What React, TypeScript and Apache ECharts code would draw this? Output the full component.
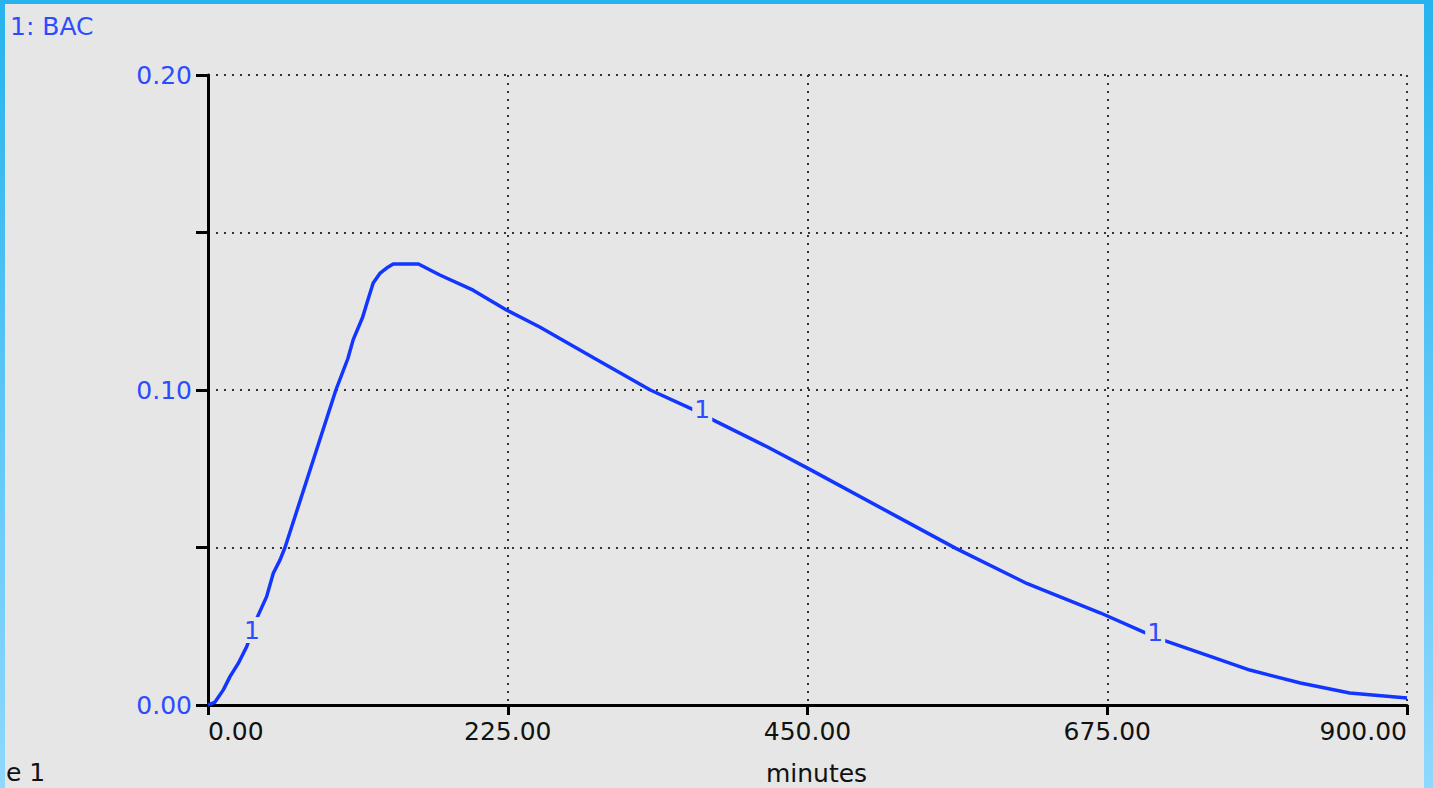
import React, { useEffect, useRef } from "react";
import * as echarts from "echarts";

// Time (minutes) and blood-alcohol concentration
const timeMinutes = [0, 5, 11.5, 16.5, 22.7, 29, 36.6, 44, 49, 54, 57.8, 76.6, 96, 105, 109, 116, 120, 124, 129, 135, 139, 158, 174, 199, 224, 249, 290, 332, 363, 379, 420, 450, 519, 561, 615, 670, 702, 717, 754, 782, 820, 857, 900];
const bacValues = [0, 0.0008, 0.0048, 0.009, 0.0132, 0.0185, 0.0275, 0.0344, 0.0418, 0.046, 0.05, 0.0746, 0.1, 0.11, 0.116, 0.123, 0.1286, 0.134, 0.137, 0.139, 0.14, 0.14, 0.1365, 0.1317, 0.1254, 0.12, 0.1101, 0.1, 0.094, 0.0905, 0.0819, 0.0752, 0.0594, 0.0498, 0.0385, 0.0292, 0.0232, 0.0206, 0.0152, 0.0111, 0.007, 0.0038, 0.0022];

// Curve labels "1" placed on the line
const labelTimes = [33, 371, 711];
const labelValues = [0.0238, 0.0937, 0.0229];

const xTicks = [0, 225, 450, 675, 900];
const yLabeled = [0, 0.1, 0.2];

const FONT = "DejaVu Sans";
const BLUE_LINE = "#1236ff";
const BLUE_TEXT = "#2d4cff";
const BG = "#e6e6e6";

export default function App() {
  const ref = useRef<HTMLDivElement>(null);

  useEffect(() => {
    if (!ref.current) return;
    const chart = echarts.init(ref.current, null, { renderer: "svg" });
    const lineData = timeMinutes.map((t, i) => [t, bacValues[i]]);
    const labelData = labelTimes.map((t, i) => [t, labelValues[i]]);
    const frameGradient = new echarts.graphic.LinearGradient(0, 0, 0, 1, [
      { offset: 0, color: "#26b3ee" },
      { offset: 1, color: "#8fd8fe" },
    ]);

    chart.setOption({
      animation: false,
      backgroundColor: BG,
      grid: {
        left: 208,
        right: 26,
        top: 75,
        bottom: 83,
        containLabel: false,
        outerBoundsMode: "none",
      },
      xAxis: {
        type: "value",
        min: xTicks[0],
        max: xTicks[xTicks.length - 1],
        interval: 225,
        name: "minutes",
        nameLocation: "middle",
        nameGap: 57,
        nameTextStyle: {
          color: "#111",
          fontSize: 25,
          lineHeight: 22,
          fontFamily: FONT,
          padding: [0, 0, 0, 18],
        },
        axisLine: { show: true, onZero: false, lineStyle: { color: "#000", width: 3 } },
        axisTick: { show: true, length: 10, lineStyle: { color: "#000", width: 3 } },
        axisLabel: {
          color: "#111",
          fontSize: 25,
          fontFamily: FONT,
          margin: 14,
          alignMinLabel: "left",
          alignMaxLabel: "right",
          formatter: (v: number) => v.toFixed(2),
        },
        splitLine: { show: true, lineStyle: { color: "#333", width: 2, type: [2, 6] } },
      },
      yAxis: {
        type: "value",
        min: 0,
        max: 0.2,
        interval: 0.05,
        axisLine: { show: true, onZero: false, lineStyle: { color: "#000", width: 3 } },
        axisTick: { show: true, length: 12, lineStyle: { color: "#000", width: 3 } },
        axisLabel: {
          color: BLUE_TEXT,
          fontSize: 25,
          fontFamily: FONT,
          margin: 16,
          formatter: (v: number) =>
            yLabeled.some((y) => Math.abs(y - v) < 1e-9) ? v.toFixed(2) : "",
        },
        splitLine: { show: true, lineStyle: { color: "#333", width: 2, type: [2, 6] } },
      },
      series: [
        {
          type: "line",
          data: lineData,
          showSymbol: false,
          symbol: "none",
          lineStyle: { color: BLUE_LINE, width: 3.5 },
          z: 2,
        },
        {
          type: "scatter",
          data: labelData,
          symbol: "rect",
          symbolSize: [20, 26],
          itemStyle: { color: BG, opacity: 1 },
          label: {
            show: true,
            position: "inside",
            formatter: "1",
            color: BLUE_TEXT,
            fontSize: 25,
            fontFamily: FONT,
          },
          z: 3,
        },
      ],
      graphic: [
        {
          type: "text",
          left: 10,
          top: 14,
          z: 10,
          style: { text: "1: BAC", fill: BLUE_TEXT, font: `25px "${FONT}"` },
        },
        {
          type: "text",
          x: 6,
          y: 760,
          z: 10,
          style: {
            text: "e 1",
            fill: "#111",
            font: `25px "${FONT}"`,
            textAlign: "left",
            textVerticalAlign: "top",
          },
        },
        { type: "rect", z: 100, shape: { x: 0, y: 0, width: 1433, height: 4 }, style: { fill: "#26b3ee" } },
        { type: "rect", z: 100, shape: { x: 0, y: 0, width: 5, height: 788 }, style: { fill: frameGradient } },
        { type: "rect", z: 100, shape: { x: 1424, y: 0, width: 9, height: 788 }, style: { fill: frameGradient } },
      ],
    });

    return () => chart.dispose();
  }, []);

  return (
    <div
      ref={ref}
      style={{ position: "fixed", left: 0, top: 0, width: 1433, height: 788 }}
    />
  );
}
